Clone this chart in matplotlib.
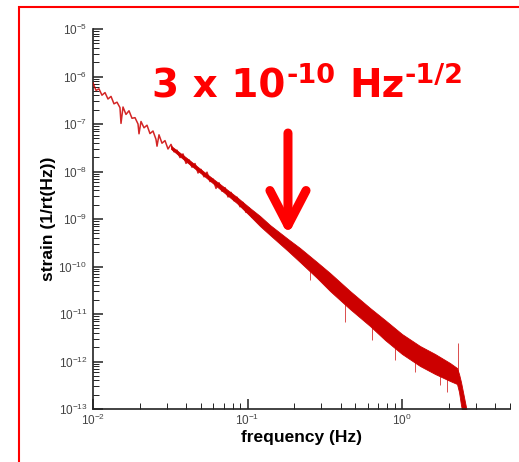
import matplotlib
matplotlib.use("Agg")
import matplotlib.pyplot as plt
from matplotlib.patches import Rectangle, FancyArrowPatch
from matplotlib.ticker import LogLocator, NullFormatter

plt.rcParams['font.family'] = ['Liberation Sans', 'DejaVu Sans']
plt.rcParams['mathtext.fontset'] = 'custom'
plt.rcParams['mathtext.rm'] = 'Liberation Sans'
plt.rcParams['mathtext.it'] = 'Liberation Sans:italic'
plt.rcParams['mathtext.bf'] = 'Liberation Sans:bold'
plt.rcParams['axes.unicode_minus'] = False

# low-frequency part of the spectrum (Hz, 1/rt(Hz))
trace_freq = [0.01000, 0.01046, 0.01093, 0.01143, 0.01196, 0.01250, 0.01308, 0.01367,
              0.01430, 0.01495, 0.01518, 0.01564, 0.01635, 0.01710, 0.01788, 0.01870,
              0.01956, 0.01985, 0.02045, 0.02139, 0.02236, 0.02338, 0.02445, 0.02557,
              0.02596, 0.02674, 0.02796, 0.02924, 0.03058, 0.03198, 0.03344, 0.03497,
              0.03657, 0.03824, 0.03999, 0.04182, 0.04373, 0.04573, 0.04782, 0.05000,
              0.05229, 0.05469, 0.05719, 0.05980, 0.06253, 0.06539, 0.06839, 0.07152,
              0.07479, 0.07820, 0.08178, 0.08551, 0.08943, 0.09352, 0.09779, 0.1023, 0.1069]
trace_strain = [7.30e-7, 5.10e-7, 5.51e-7, 4.04e-7, 4.58e-7, 3.36e-7, 3.81e-7, 2.66e-7,
                2.88e-7, 2.21e-7, 1.03e-7, 2.28e-7, 1.59e-7, 1.90e-7, 1.32e-7, 1.36e-7,
                1.00e-7, 6.22e-8, 1.13e-7, 8.32e-8, 9.43e-8, 6.28e-8, 7.12e-8, 4.74e-8,
                3.41e-8, 5.92e-8, 3.94e-8, 4.47e-8, 2.98e-8, 3.72e-8, 2.60e-8, 2.81e-8,
                1.96e-8, 2.34e-8, 1.48e-8, 1.76e-8, 1.23e-8, 1.47e-8, 9.30e-9, 1.11e-8,
                7.73e-9, 9.67e-9, 6.13e-9, 6.95e-9, 4.41e-9, 5.78e-9, 3.85e-9, 4.58e-9,
                2.91e-9, 3.63e-9, 2.42e-9, 2.88e-9, 1.81e-9, 2.23e-9, 1.38e-9, 1.70e-9, 1.10e-9]

# noise band (upper and lower edges), thin at first, dense at higher frequency
band_freq = [0.03198, 0.04055, 0.05152, 0.06637, 0.08551, 0.1038, 0.1204, 0.1398, 0.1829,
             0.2187, 0.2818, 0.3420, 0.4607, 0.6207, 0.7762, 1.000, 1.308, 1.636, 2.045,
             2.270, 2.339, 2.409, 2.482, 2.557, 2.634]
band_upper = [3.46e-8, 1.91e-8, 1.02e-8, 5.43e-9, 2.88e-9, 1.70e-9, 1.16e-9, 7.48e-10,
              3.79e-10, 2.45e-10, 1.24e-10, 7.30e-11, 3.05e-11, 1.34e-11, 7.48e-12, 3.79e-12,
              2.12e-12, 1.44e-12, 9.30e-13, 7.30e-13, 5.46e-13, 3.70e-13, 2.28e-13, 1.40e-13,
              8.65e-14]
band_lower = [2.99e-8, 1.57e-8, 8.44e-9, 4.26e-9, 2.15e-9, 1.16e-9, 7.12e-10, 4.60e-10,
              2.12e-10, 1.24e-10, 5.73e-11, 3.05e-11, 1.27e-11, 5.59e-12, 2.84e-12, 1.44e-12,
              8.04e-13, 5.46e-13, 3.89e-13, 3.36e-13, 2.28e-13, 1.21e-13, 7.48e-14, 4.60e-14,
              4.00e-14]

# single spikes sticking out of the band
spike_freq = [0.254, 0.428, 0.639, 0.901, 1.214, 1.762, 1.956, 2.30]
spike_low = [5.20e-11, 6.79e-12, 2.84e-12, 1.08e-12, 6.01e-13, 3.20e-13, 2.28e-13, 5.0e-13]
spike_high = [1.10e-10, 2.39e-11, 8.24e-12, 3.12e-12, 1.58e-12, 7.66e-13, 6.62e-13, 2.45e-12]

# axis ticks
x_ticks = [0.01, 0.1, 1]
y_ticks = [1e-13, 1e-12, 1e-11, 1e-10, 1e-9, 1e-8, 1e-7, 1e-6, 1e-5]

# arrow pointing at the noise level
arrow_freq = 0.1828
arrow_tip = 4.60e-10
arrow_tail = 6.46e-8

W, H = 519, 462
fig = plt.figure(figsize=(W / 100, H / 100), dpi=100)
ax = fig.add_axes([93 / W, 53 / H, 417 / W, 380 / H])

red_line = '#cc0000'
ax.fill_between(band_freq, band_lower, band_upper, color=red_line, lw=0.6, zorder=2)
ax.plot(trace_freq, trace_strain, color=red_line, lw=1.1, alpha=0.85, zorder=3)
ax.vlines(spike_freq, spike_low, spike_high, color=red_line, lw=0.7, alpha=0.7)

ax.set_xscale('log')
ax.set_yscale('log')
ax.set_xlim(0.01, 5)
ax.set_ylim(1e-13, 1e-5)

ax.set_xticks(x_ticks)
ax.set_yticks(y_ticks)
ax.yaxis.set_minor_locator(LogLocator(base=10, subs=range(2, 10), numticks=100))
ax.xaxis.set_minor_locator(LogLocator(base=10, subs=range(2, 10), numticks=100))
ax.xaxis.set_minor_formatter(NullFormatter())
ax.yaxis.set_minor_formatter(NullFormatter())

for side in ['top', 'right']:
    ax.spines[side].set_visible(False)
for side in ['left', 'bottom']:
    ax.spines[side].set_linewidth(1.2)
    ax.spines[side].set_color('#222222')

ax.tick_params(which='both', direction='in', color='#222222', labelcolor='#444444',
               labelsize=8.5)
ax.tick_params(axis='y', pad=4)
ax.tick_params(axis='x', pad=3)
ax.tick_params(which='major', length=7, width=1.1)
ax.tick_params(which='minor', length=4, width=0.7)

ax.set_xlabel('frequency (Hz)', fontsize=12.5, fontweight='bold', labelpad=1)
ax.set_ylabel('strain (1/rt(Hz))', fontsize=12.5, fontweight='bold', labelpad=2)

arrow = FancyArrowPatch((arrow_freq, arrow_tail), (arrow_freq, arrow_tip),
                        arrowstyle='->,head_length=2.5,head_width=1.3',
                        mutation_scale=10, lw=6.5, color='#ff0000',
                        shrinkA=0, shrinkB=0, capstyle='round')
ax.add_patch(arrow)

# big red label, built piece by piece so the superscripts keep a plain hyphen
renderer = fig.canvas.get_renderer()


def put(s, x_px, base_px, size):
    t = fig.text(x_px / W, (H - base_px) / H, s, fontsize=size, fontweight='bold',
                 color='#ff0000', family='DejaVu Sans', va='baseline', ha='left')
    return t.get_window_extent(renderer).x1


x = put('3 x 10', 152, 97, 28)
x = put('-10', x + 1, 83, 19.5)
x = put('Hz', x + 14, 97, 28)
put('-1/2', x, 83, 19.5)

# red frame around the slide
fig.patches.append(Rectangle((19 / W, -0.05), 1.0, 1.05 - 7 / H,
                             transform=fig.transFigure, fill=False,
                             edgecolor='#ff0000', lw=1.5))

fig.savefig('out.png', dpi=100)
